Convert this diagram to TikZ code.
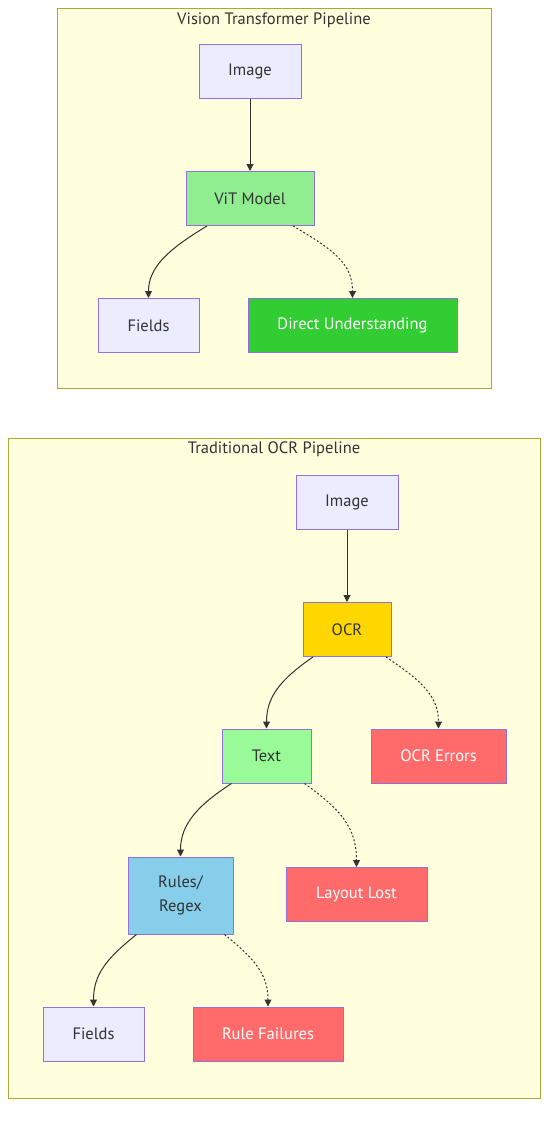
\documentclass[tikz,border=0pt]{standalone}
\usepackage{fontspec}
\setmainfont{PT Sans}
\usetikzlibrary{arrows.meta}
\definecolor{nodefill}{HTML}{ECECFF}
\definecolor{nodeline}{HTML}{9370DB}
\definecolor{clfill}{HTML}{FFFFDE}
\definecolor{clline}{HTML}{AAAA33}
\definecolor{txt}{HTML}{333333}
\definecolor{lgreen}{HTML}{90EE90}
\definecolor{limeg}{HTML}{32CD32}
\definecolor{gold}{HTML}{FFD700}
\definecolor{errred}{HTML}{FF6B6B}
\definecolor{pgreen}{HTML}{98FB98}
\definecolor{sky}{HTML}{87CEEB}
\begin{document}
\begin{tikzpicture}[x=1pt,y=-1pt,
  every node/.style={font=\fontsize{16.5}{24}\selectfont, text=txt},
  box/.style={draw=nodeline, fill=nodefill, line width=1pt, minimum height=54pt, inner sep=0pt, align=center},
  cluster/.style={draw=clline, fill=clfill, line width=1pt},
  ctitle/.style={font=\fontsize{16.5}{18}\selectfont, text=txt},
  edge/.style={draw=txt, line width=1pt, -{Triangle[length=7pt,width=7pt]}},
  dotedge/.style={edge, dash pattern=on 2pt off 2pt}]
\useasboundingbox (0,0) rectangle (556,1122);
% clusters
\draw[cluster] (57,8) rectangle (491,388);
\node[ctitle] (t1) at (274,20) {Vision Transformer Pipeline};
\draw[cluster] (8,438) rectangle (540,1098);
\node[ctitle] (t2) at (274,449) {Traditional OCR Pipeline};
% top nodes
\node[box, minimum width=102pt] (img1) at (250,71) {Image};
\node[box, minimum width=128pt, fill=lgreen] (vit) at (250,198.5) {ViT Model};
\node[box, minimum width=101pt] (f1) at (148.5,325.5) {Fields};
\node[box, minimum width=209pt, fill=limeg, text=white] (du) at (352.5,325.5) {Direct Understanding};
% bottom nodes
\node[box, minimum width=102pt] (img2) at (347,502) {Image};
\node[box, minimum width=88pt, fill=gold] (ocr) at (347,629.5) {OCR};
\node[box, minimum width=89pt, fill=pgreen] (text) at (266.5,756) {Text};
\node[box, minimum width=135pt, fill=errred, text=white] (oerr) at (438.5,756) {OCR Errors};
\node[box, minimum width=141pt, fill=errred, text=white] (ll) at (356.5,894.5) {Layout Lost};
\node[box, minimum width=105pt, minimum height=77pt, fill=sky] (rules) at (180.5,895.5) {Rules/\\Regex};
\node[box, minimum width=101pt] (f2) at (93.5,1034) {Fields};
\node[box, minimum width=150pt, fill=errred, text=white] (rf) at (268,1034) {Rule Failures};
% edges
\draw[edge] (img1.south) -- (vit.north);
\draw[edge] ([xshift=-43pt]vit.south) .. controls +(-40,24) and +(0,-30) .. (f1.north);
\draw[dotedge] ([xshift=43pt]vit.south) .. controls +(45,26) and +(0,-32) .. (du.north);
\draw[edge] (img2.south) -- (ocr.north);
\draw[edge] ([xshift=-34pt]ocr.south) .. controls +(-32,22) and +(0,-32) .. (text.north);
\draw[dotedge] ([xshift=39pt]ocr.south) .. controls +(36,24) and +(0,-32) .. (oerr.north);
\draw[edge] ([xshift=-35pt]text.south) .. controls +(-34,22) and +(0,-32) .. (rules.north);
\draw[dotedge] ([xshift=38pt]text.south) .. controls +(36,26) and +(0,-40) .. (ll.north);
\draw[edge] ([xshift=-44pt]rules.south) .. controls +(-30,24) and +(0,-32) .. (f2.north);
\draw[dotedge] ([xshift=44pt]rules.south) .. controls +(30,24) and +(0,-32) .. (rf.north);
\end{tikzpicture}
\end{document}
